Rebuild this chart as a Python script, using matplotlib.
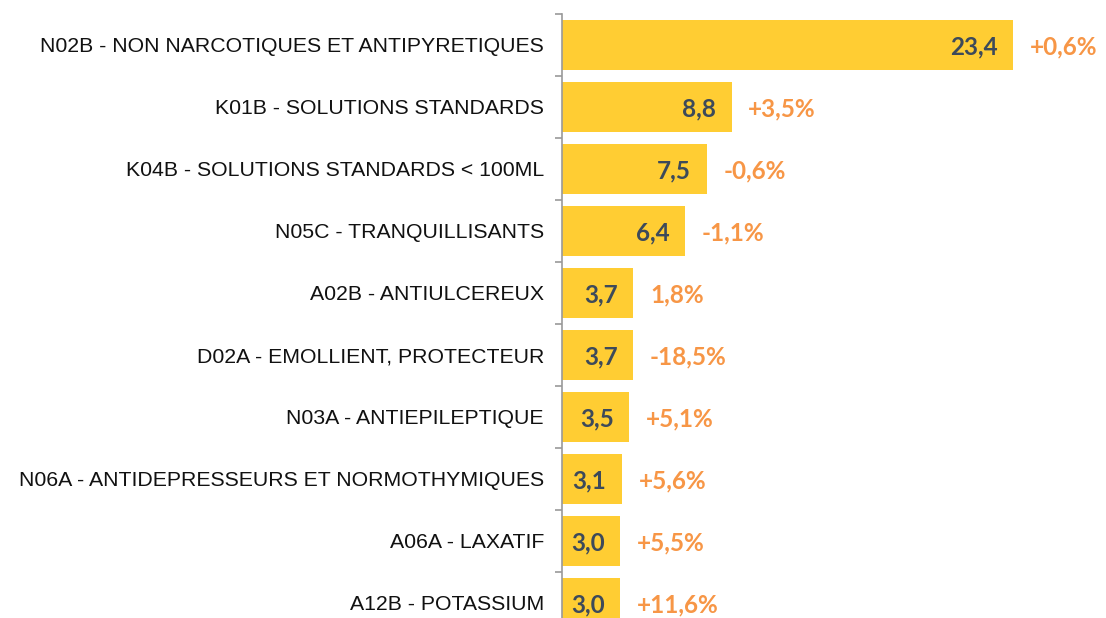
import numpy as np
import matplotlib.pyplot as plt

categories = ["N02B - NON NARCOTIQUES ET ANTIPYRETIQUES",
              "K01B - SOLUTIONS STANDARDS",
              "K04B - SOLUTIONS STANDARDS < 100ML",
              "N05C - TRANQUILLISANTS",
              "A02B - ANTIULCEREUX",
              "D02A - EMOLLIENT, PROTECTEUR",
              "N03A - ANTIEPILEPTIQUE",
              "N06A - ANTIDEPRESSEURS ET NORMOTHYMIQUES",
              "A06A - LAXATIF",
              "A12B - POTASSIUM"]
values = [23.4, 8.8, 7.5, 6.4, 3.7, 3.7, 3.5, 3.1, 3.0, 3.0]
changes = ["+0,6%", "+3,5%", "-0,6%", "-1,1%", "1,8%", "-18,5%",
           "+5,1%", "+5,6%", "+5,5%", "+11,6%"]

fig = plt.figure(figsize=(11.06, 6.18), dpi=100)
ax = fig.add_axes([562/1106, 1 - 14/618 - 620/618, 544/1106, 620/618])

y = np.arange(len(categories))
bars = ax.barh(y, values, height=0.8, color="#FFCD33")

ax.set_xlim(0, 544/19.27)
ax.set_ylim(len(categories) - 0.5, -0.5)

for b, v, c in zip(bars, values, changes):
    yc = b.get_y() + b.get_height()/2
    ax.annotate(f"{v:.1f}".replace(".", ","), (v, yc), xytext=(-11, -1.5),
                textcoords="offset points", ha="right", va="center",
                fontsize=17.5, fontweight="bold", family="Lato", color="#3D4A5A")
    ax.annotate(c, (v, yc), xytext=(12, -1.5), textcoords="offset points",
                ha="left", va="center", fontsize=17.5, fontweight="bold",
                family="Lato", color="#F79646")

ax.set_yticks(y)
ax.set_yticklabels(categories, fontsize=15.3, family="Liberation Sans", color="#111111")
ax.tick_params(axis="y", which="major", length=0, pad=13)
ax.set_yticks(np.arange(-0.5, len(categories), 1), minor=True)
ax.tick_params(axis="y", which="minor", length=5, width=1.2, color="#999999")
ax.set_xticks([])
for s in ["top", "right", "bottom"]:
    ax.spines[s].set_visible(False)
ax.spines["left"].set_color("#999999")
ax.spines["left"].set_linewidth(1.2)

fig.savefig("out.png", dpi=100)
